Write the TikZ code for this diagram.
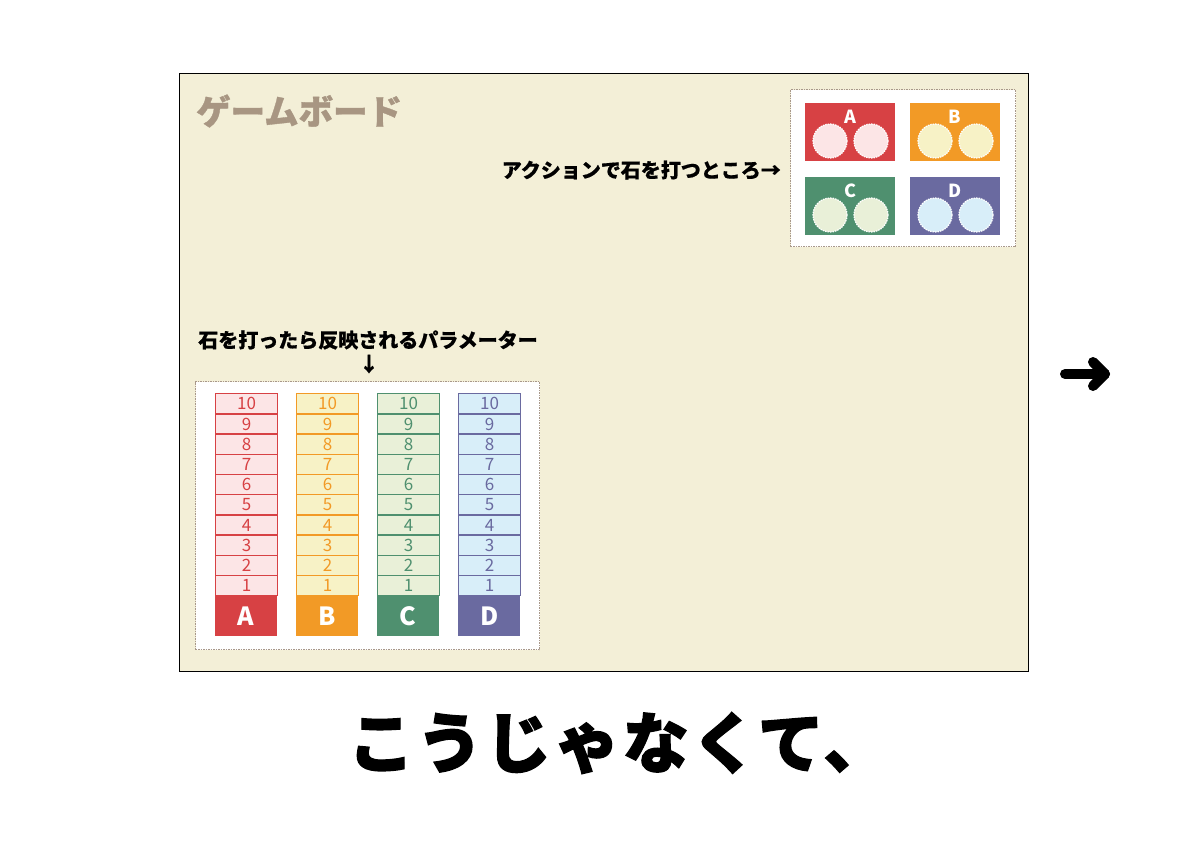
\documentclass[tikz,border=0pt]{standalone}
\usepackage{fontspec}
\setmainfont{Noto Sans CJK JP}
\definecolor{boardbg}{HTML}{F3EFD7}
\definecolor{titlebrown}{HTML}{A89682}
\definecolor{dotgrey}{HTML}{A8988A}
\definecolor{darkA}{HTML}{D74144}
\definecolor{darkB}{HTML}{F29A26}
\definecolor{darkC}{HTML}{4F906F}
\definecolor{darkD}{HTML}{6A6AA0}
\definecolor{lightA}{HTML}{FCE5E6}
\definecolor{lightB}{HTML}{F7F2C6}
\definecolor{lightC}{HTML}{E9F0D8}
\definecolor{lightD}{HTML}{D8EEF9}
\tikzset{
  panel/.style={draw=dotgrey, fill=white, line width=1.2pt, dash pattern=on 1.5pt off 1pt,
    anchor=north west, inner sep=0pt},
  card/.style={anchor=north west, minimum width=90pt, minimum height=58pt, inner sep=0pt},
  stone/.style={circle, draw=white, line width=1.2pt, dash pattern=on 1.5pt off 1pt,
    minimum size=34pt, inner sep=0pt},
  cell/.style={draw, line width=1.3pt, anchor=north west, minimum width=62pt,
    minimum height=20.2pt, inner sep=0pt, font=\fontsize{17}{17}\selectfont},
  jplabel/.style={font=\bfseries\addfontfeature{FakeBold=0.6}\fontsize{20}{20}\selectfont}
}
\begin{document}
\begin{tikzpicture}[x=1pt,y=-1pt]
  \useasboundingbox (0,0) rectangle (1200,848);
  \fill[white] (0,0) rectangle (1200,848);

  \node[draw, fill=boardbg, line width=1.3pt, anchor=north west, inner sep=0pt,
    minimum width=849pt, minimum height=598pt] (board) at (179,73) {};
  \node[anchor=west, inner sep=0pt, text=titlebrown,
    font=\bfseries\addfontfeature{FakeBold=1}\fontsize{34.5}{34.5}\selectfont] (title) at (196,111) {ゲームボード};

  % action area
  \node[panel, minimum width=225pt, minimum height=157pt] (actpanel) at (790,89) {};
  \foreach \n/\x/\y in {A/805/103, B/910/103, C/805/177, D/910/177} {
    \node[card, fill=dark\n] (card\n) at (\x,\y) {};
    \node[text=white, font=\bfseries\fontsize{18}{18}\selectfont] (cardlabel\n) at (\x+45,\y+14) {\n};
    \node[stone, fill=light\n] (stone\n1) at (\x+25,\y+38) {};
    \node[stone, fill=light\n] (stone\n2) at (\x+66,\y+38) {};
  }
  \node[jplabel, anchor=east, inner sep=0pt] (actlabel) at (781,170) {アクションで石を打つところ→};

  % parameters
  \node[jplabel, inner sep=0pt] (paramlabel) at (368,340) {石を打ったら反映されるパラメーター};
  \node[jplabel] (paramdown) at (369,364) {↓};
  \node[panel, minimum width=344pt, minimum height=268pt] (parampanel) at (195,381) {};
  \foreach \n/\x in {A/215, B/296, C/377, D/458} {
    \foreach \v in {1,...,10} {
      \node[cell, draw=dark\n, fill=light\n, text=dark\n] (cell\n\v) at (\x,595-\v*20.2) {\v};
    }
    \node[fill=dark\n, text=white, anchor=north west, minimum width=62pt, minimum height=41pt,
      inner sep=0pt, font=\bfseries\fontsize{25}{25}\selectfont] (param\n) at (\x,595) {\n};
  }

  % next arrow
  \coordinate (arrowtail) at (1065,374);
  \coordinate (arrowtip) at (1105,374);
  \coordinate (arrowup) at (1093,362);
  \coordinate (arrowdown) at (1093,386);
  \draw[line width=10pt, line cap=round, line join=round] (arrowtail) -- (arrowtip);
  \draw[line width=10pt, line cap=round, line join=round] (arrowup) -- (arrowtip) -- (arrowdown);

  \node[inner sep=0pt, anchor=west,
    font=\bfseries\addfontfeature{FakeBold=2,LetterSpace=4}\fontsize{66}{66}\selectfont] (message) at (348,743) {こうじゃなくて、};
\end{tikzpicture}
\end{document}
